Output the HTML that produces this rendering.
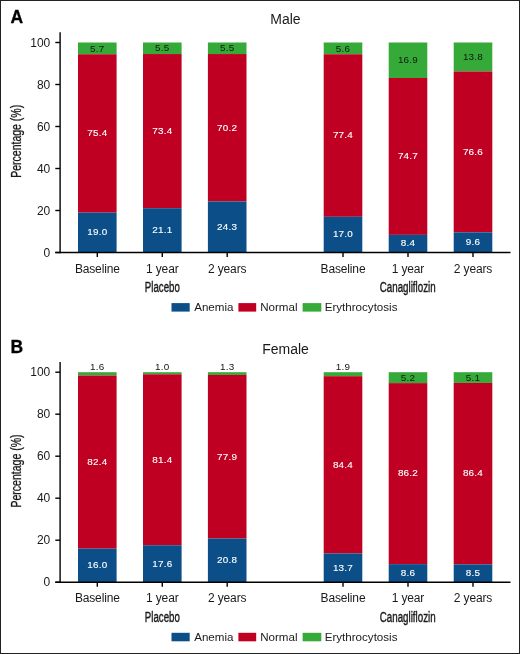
<!DOCTYPE html>
<html><head><meta charset="utf-8"><style>
html,body{margin:0;padding:0;background:#fff}
body{width:520px;height:654px;overflow:hidden}
svg{display:block;will-change:transform}
text{font-family:"Liberation Sans",sans-serif;fill:#1a1a1a}
.lt{font-weight:bold;font-size:17.5px;fill:#000;stroke:#000;stroke-width:0.3px}
.ti{font-size:14px}
.vl{font-size:9.9px;text-anchor:middle;letter-spacing:0.25px}
.w{fill:#fff;stroke:#fff;stroke-width:0.12px}
.k{fill:#0d1a0d}
.ax{stroke:#000;stroke-width:1.4}
.xl{font-size:12px;text-anchor:middle;letter-spacing:-0.15px}
.yt{font-size:12px;text-anchor:end}
.yl{font-size:14.2px;stroke:#1a1a1a;stroke-width:0.3px}
.gl{font-size:14px;stroke:#1a1a1a;stroke-width:0.4px}
.lg{font-size:11.6px}
</style></head><body>
<svg width="520" height="654" viewBox="0 0 520 654">
<rect x="0" y="0" width="520" height="654" fill="#fff"/>
<text x="10.4" y="22.5" class="lt">A</text>
<text x="285.5" y="24" class="ti" text-anchor="middle">Male</text>
<rect x="78" y="42.5" width="38.6" height="11.76" fill="#36aa38"/>
<rect x="78" y="54.26" width="38.6" height="158.34" fill="#c00022"/>
<rect x="78" y="212.6" width="38.6" height="39.9" fill="#0c4f88"/>
<text x="97.3" y="235.35" class="vl w">19.0</text>
<text x="97.3" y="136.23" class="vl w">75.4</text>
<text x="97.3" y="51.58" class="vl k">5.7</text>
<line x1="97.3" x2="97.3" y1="252.5" y2="257" class="ax"/>
<text x="97.3" y="272.5" class="xl">Baseline</text>
<rect x="143" y="42.5" width="38.6" height="11.55" fill="#36aa38"/>
<rect x="143" y="54.05" width="38.6" height="154.14" fill="#c00022"/>
<rect x="143" y="208.19" width="38.6" height="44.31" fill="#0c4f88"/>
<text x="162.3" y="233.15" class="vl w">21.1</text>
<text x="162.3" y="133.92" class="vl w">73.4</text>
<text x="162.3" y="51.47" class="vl k">5.5</text>
<line x1="162.3" x2="162.3" y1="252.5" y2="257" class="ax"/>
<text x="162.3" y="272.5" class="xl">1 year</text>
<rect x="207.9" y="42.5" width="38.6" height="11.55" fill="#36aa38"/>
<rect x="207.9" y="54.05" width="38.6" height="147.42" fill="#c00022"/>
<rect x="207.9" y="201.47" width="38.6" height="51.03" fill="#0c4f88"/>
<text x="227.2" y="229.79" class="vl w">24.3</text>
<text x="227.2" y="130.56" class="vl w">70.2</text>
<text x="227.2" y="51.47" class="vl k">5.5</text>
<line x1="227.2" x2="227.2" y1="252.5" y2="257" class="ax"/>
<text x="227.2" y="272.5" class="xl">2 years</text>
<rect x="323.7" y="42.5" width="38.6" height="11.76" fill="#36aa38"/>
<rect x="323.7" y="54.26" width="38.6" height="162.54" fill="#c00022"/>
<rect x="323.7" y="216.8" width="38.6" height="35.7" fill="#0c4f88"/>
<text x="343" y="237.45" class="vl w">17.0</text>
<text x="343" y="138.33" class="vl w">77.4</text>
<text x="343" y="51.58" class="vl k">5.6</text>
<line x1="343" x2="343" y1="252.5" y2="257" class="ax"/>
<text x="343" y="272.5" class="xl">Baseline</text>
<rect x="388.7" y="42.5" width="38.6" height="35.49" fill="#36aa38"/>
<rect x="388.7" y="77.99" width="38.6" height="156.87" fill="#c00022"/>
<rect x="388.7" y="234.86" width="38.6" height="17.64" fill="#0c4f88"/>
<text x="408" y="246.48" class="vl w">8.4</text>
<text x="408" y="159.23" class="vl w">74.7</text>
<text x="408" y="63.45" class="vl k">16.9</text>
<line x1="408" x2="408" y1="252.5" y2="257" class="ax"/>
<text x="408" y="272.5" class="xl">1 year</text>
<rect x="453.7" y="42.5" width="38.6" height="28.98" fill="#36aa38"/>
<rect x="453.7" y="71.48" width="38.6" height="160.86" fill="#c00022"/>
<rect x="453.7" y="232.34" width="38.6" height="20.16" fill="#0c4f88"/>
<text x="473" y="245.22" class="vl w">9.6</text>
<text x="473" y="154.71" class="vl w">76.6</text>
<text x="473" y="60.19" class="vl k">13.8</text>
<line x1="473" x2="473" y1="252.5" y2="257" class="ax"/>
<text x="473" y="272.5" class="xl">2 years</text>
<line x1="60.1" x2="60.1" y1="32.3" y2="253.2" class="ax"/>
<line x1="55.3" x2="510.5" y1="252.5" y2="252.5" class="ax"/>
<line x1="55.3" x2="60.1" y1="252.5" y2="252.5" class="ax"/>
<text x="50.3" y="256.7" class="yt">0</text>
<line x1="55.3" x2="60.1" y1="210.5" y2="210.5" class="ax"/>
<text x="50.3" y="214.7" class="yt">20</text>
<line x1="55.3" x2="60.1" y1="168.5" y2="168.5" class="ax"/>
<text x="50.3" y="172.7" class="yt">40</text>
<line x1="55.3" x2="60.1" y1="126.5" y2="126.5" class="ax"/>
<text x="50.3" y="130.7" class="yt">60</text>
<line x1="55.3" x2="60.1" y1="84.5" y2="84.5" class="ax"/>
<text x="50.3" y="88.7" class="yt">80</text>
<line x1="55.3" x2="60.1" y1="42.5" y2="42.5" class="ax"/>
<text x="50.3" y="46.7" class="yt">100</text>
<text transform="translate(20.8,141.3) rotate(-90)" class="yl" textLength="73" lengthAdjust="spacingAndGlyphs" x="-36.5" text-anchor="start">Percentage (%)</text>
<text x="144.8" y="291.9" class="gl" textLength="35" lengthAdjust="spacingAndGlyphs">Placebo</text>
<text x="379.7" y="291.9" class="gl" textLength="56" lengthAdjust="spacingAndGlyphs">Canagliflozin</text>
<rect x="171.5" y="303.1" width="18.2" height="8.5" fill="#0c4f88"/>
<text x="194.2" y="311.3" class="lg">Anemia</text>
<rect x="238.4" y="303.1" width="17.8" height="8.5" fill="#c00022"/>
<text x="260.2" y="311.3" class="lg">Normal</text>
<rect x="302.6" y="303.1" width="18.7" height="8.5" fill="#36aa38"/>
<text x="324.7" y="311.3" class="lg">Erythrocytosis</text>
<text x="10.4" y="352.5" class="lt">B</text>
<text x="285.5" y="353.7" class="ti" text-anchor="middle">Female</text>
<rect x="78" y="372.2" width="38.6" height="3.36" fill="#36aa38"/>
<rect x="78" y="375.56" width="38.6" height="173.04" fill="#c00022"/>
<rect x="78" y="548.6" width="38.6" height="33.6" fill="#0c4f88"/>
<text x="97.3" y="568.2" class="vl w">16.0</text>
<text x="97.3" y="464.88" class="vl w">82.4</text>
<text x="97.3" y="369.7" class="vl k">1.6</text>
<line x1="97.3" x2="97.3" y1="582.2" y2="586.7" class="ax"/>
<text x="97.3" y="602.2" class="xl">Baseline</text>
<rect x="143" y="372.2" width="38.6" height="2.1" fill="#36aa38"/>
<rect x="143" y="374.3" width="38.6" height="170.94" fill="#c00022"/>
<rect x="143" y="545.24" width="38.6" height="36.96" fill="#0c4f88"/>
<text x="162.3" y="566.52" class="vl w">17.6</text>
<text x="162.3" y="462.57" class="vl w">81.4</text>
<text x="162.3" y="369.7" class="vl k">1.0</text>
<line x1="162.3" x2="162.3" y1="582.2" y2="586.7" class="ax"/>
<text x="162.3" y="602.2" class="xl">1 year</text>
<rect x="207.9" y="372.2" width="38.6" height="2.73" fill="#36aa38"/>
<rect x="207.9" y="374.93" width="38.6" height="163.59" fill="#c00022"/>
<rect x="207.9" y="538.52" width="38.6" height="43.68" fill="#0c4f88"/>
<text x="227.2" y="563.16" class="vl w">20.8</text>
<text x="227.2" y="459.52" class="vl w">77.9</text>
<text x="227.2" y="369.7" class="vl k">1.3</text>
<line x1="227.2" x2="227.2" y1="582.2" y2="586.7" class="ax"/>
<text x="227.2" y="602.2" class="xl">2 years</text>
<rect x="323.7" y="372.2" width="38.6" height="3.99" fill="#36aa38"/>
<rect x="323.7" y="376.19" width="38.6" height="177.24" fill="#c00022"/>
<rect x="323.7" y="553.43" width="38.6" height="28.77" fill="#0c4f88"/>
<text x="343" y="570.62" class="vl w">13.7</text>
<text x="343" y="467.61" class="vl w">84.4</text>
<text x="343" y="369.7" class="vl k">1.9</text>
<line x1="343" x2="343" y1="582.2" y2="586.7" class="ax"/>
<text x="343" y="602.2" class="xl">Baseline</text>
<rect x="388.7" y="372.2" width="38.6" height="10.92" fill="#36aa38"/>
<rect x="388.7" y="383.12" width="38.6" height="181.02" fill="#c00022"/>
<rect x="388.7" y="564.14" width="38.6" height="18.06" fill="#0c4f88"/>
<text x="408" y="575.97" class="vl w">8.6</text>
<text x="408" y="476.43" class="vl w">86.2</text>
<text x="408" y="380.86" class="vl k">5.2</text>
<line x1="408" x2="408" y1="582.2" y2="586.7" class="ax"/>
<text x="408" y="602.2" class="xl">1 year</text>
<rect x="453.7" y="372.2" width="38.6" height="10.71" fill="#36aa38"/>
<rect x="453.7" y="382.91" width="38.6" height="181.44" fill="#c00022"/>
<rect x="453.7" y="564.35" width="38.6" height="17.85" fill="#0c4f88"/>
<text x="473" y="576.08" class="vl w">8.5</text>
<text x="473" y="476.43" class="vl w">86.4</text>
<text x="473" y="380.75" class="vl k">5.1</text>
<line x1="473" x2="473" y1="582.2" y2="586.7" class="ax"/>
<text x="473" y="602.2" class="xl">2 years</text>
<line x1="60.1" x2="60.1" y1="362" y2="582.9" class="ax"/>
<line x1="55.3" x2="510.5" y1="582.2" y2="582.2" class="ax"/>
<line x1="55.3" x2="60.1" y1="582.2" y2="582.2" class="ax"/>
<text x="50.3" y="586.4" class="yt">0</text>
<line x1="55.3" x2="60.1" y1="540.2" y2="540.2" class="ax"/>
<text x="50.3" y="544.4" class="yt">20</text>
<line x1="55.3" x2="60.1" y1="498.2" y2="498.2" class="ax"/>
<text x="50.3" y="502.4" class="yt">40</text>
<line x1="55.3" x2="60.1" y1="456.2" y2="456.2" class="ax"/>
<text x="50.3" y="460.4" class="yt">60</text>
<line x1="55.3" x2="60.1" y1="414.2" y2="414.2" class="ax"/>
<text x="50.3" y="418.4" class="yt">80</text>
<line x1="55.3" x2="60.1" y1="372.2" y2="372.2" class="ax"/>
<text x="50.3" y="376.4" class="yt">100</text>
<text transform="translate(20.8,471) rotate(-90)" class="yl" textLength="73" lengthAdjust="spacingAndGlyphs" x="-36.5" text-anchor="start">Percentage (%)</text>
<text x="144.8" y="621.6" class="gl" textLength="35" lengthAdjust="spacingAndGlyphs">Placebo</text>
<text x="379.7" y="621.6" class="gl" textLength="56" lengthAdjust="spacingAndGlyphs">Canagliflozin</text>
<rect x="171.5" y="632.8" width="18.2" height="8.5" fill="#0c4f88"/>
<text x="194.2" y="641" class="lg">Anemia</text>
<rect x="238.4" y="632.8" width="17.8" height="8.5" fill="#c00022"/>
<text x="260.2" y="641" class="lg">Normal</text>
<rect x="302.6" y="632.8" width="18.7" height="8.5" fill="#36aa38"/>
<text x="324.7" y="641" class="lg">Erythrocytosis</text>
<rect x="0.5" y="0.5" width="519" height="653" fill="none" stroke="#222" stroke-width="1"/>
</svg>
</body></html>
